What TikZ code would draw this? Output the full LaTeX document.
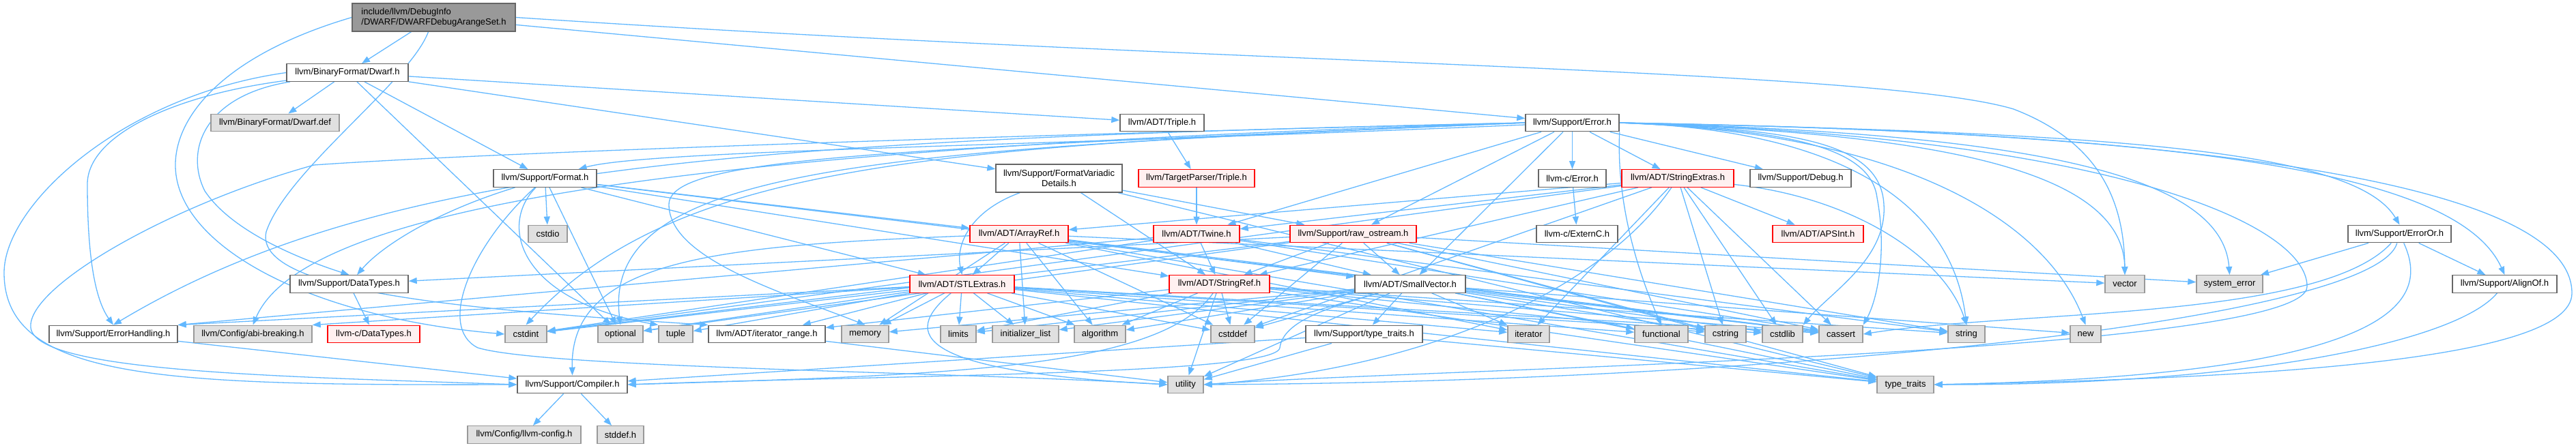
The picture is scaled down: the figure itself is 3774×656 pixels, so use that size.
\documentclass[tikz,border=0pt]{standalone}
\usepackage{fontspec}
\setmainfont{Liberation Sans}
\usetikzlibrary{arrows.meta,backgrounds}
\definecolor{EdgeBlue}{HTML}{63B8FF}
\definecolor{BoxLine}{HTML}{666666}
\definecolor{SysFill}{HTML}{E0E0E0}
\definecolor{SysLine}{HTML}{999999}
\definecolor{CutFill}{HTML}{FFF0F0}
\definecolor{CutLine}{HTML}{FF0000}
\definecolor{RootFill}{HTML}{999999}

\tikzset{
  box/.style={rectangle, minimum height=25.5pt, inner sep=0pt, line width=1.4pt,
    font=\fontsize{13}{15.5}\selectfont},
  hdr/.style={box, draw=BoxLine, fill=white, minimum width=#1pt},
  syshdr/.style={box, draw=SysLine, fill=SysFill, minimum width=#1pt},
  cuthdr/.style={box, draw=CutLine, fill=CutFill, minimum width=#1pt},
  roothdr/.style={box, draw=BoxLine, fill=RootFill, minimum width=#1pt,
    minimum height=41pt, align=left},
  dep/.style={draw=EdgeBlue, line width=1.3pt, -{Triangle[length=12pt,width=9pt]}},
}

\begin{document}
\begin{tikzpicture}[x=1pt,y=-1pt]
\useasboundingbox (0,0) rectangle (3774,656);

\node[roothdr=239] (root) at (635.5,25.5) {include/llvm/DebugInfo\\/DWARF/DWARFDebugArangeSet.h};
\node[hdr=178] (dwarf) at (509,106.5) {llvm/BinaryFormat/Dwarf.h};

\node[syshdr=188] (dwarfdef) at (403,180) {llvm/BinaryFormat/Dwarf.def};
\node[hdr=123] (triple) at (1702.5,180) {llvm/ADT/Triple.h};
\node[hdr=137] (error) at (2303.5,180) {llvm/Support/Error.h};

\node[hdr=151] (format) at (798.5,261.5) {llvm/Support/Format.h};
\node[hdr=185, minimum height=41pt, align=center] (fvd) at (1551.5,261.5) {llvm/Support/FormatVariadic\\Details.h};
\node[cuthdr=170] (tptriple) at (1753,261.5) {llvm/TargetParser/Triple.h};
\node[hdr=99] (cerror) at (2303.5,261.5) {llvm-c/Error.h};
\node[cuthdr=164] (strext) at (2458,261.5) {llvm/ADT/StringExtras.h};
\node[hdr=148] (debug) at (2638,261.5) {llvm/Support/Debug.h};

\node[syshdr=57] (cstdio) at (802.5,343) {cstdio};
\node[cuthdr=144] (arrayref) at (1493,343) {llvm/ADT/ArrayRef.h};
\node[cuthdr=126] (twine) at (1753,343) {llvm/ADT/Twine.h};
\node[cuthdr=185] (rawos) at (1982.5,343) {llvm/Support/raw\_ostream.h};
\node[hdr=119] (externc) at (2310.5,343) {llvm-c/ExternC.h};
\node[cuthdr=133] (apsint) at (2663.5,343) {llvm/ADT/APSInt.h};
\node[hdr=151] (erroror) at (3515.5,343) {llvm/Support/ErrorOr.h};

\node[hdr=173] (datatypes) at (511.5,416.5) {llvm/Support/DataTypes.h};
\node[cuthdr=153] (stlextras) at (1409.5,416.5) {llvm/ADT/STLExtras.h};
\node[cuthdr=147] (stringref) at (1786.5,416.5) {llvm/ADT/StringRef.h};
\node[hdr=162] (smallvec) at (2066,416.5) {llvm/ADT/SmallVector.h};
\node[syshdr=58] (vector) at (3113,416.5) {vector};
\node[syshdr=97] (syserr) at (3266.5,416.5) {system\_error};
\node[hdr=153] (alignof) at (3669.5,416.5) {llvm/Support/AlignOf.h};

\node[hdr=188] (errhandling) at (166,490) {llvm/Support/ErrorHandling.h};
\node[syshdr=173] (abibreak) at (370.5,490) {llvm/Config/abi-breaking.h};
\node[cuthdr=135] (cdatatypes) at (547.5,490) {llvm-c/DataTypes.h};
\node[syshdr=61] (cstdint) at (770.5,490) {cstdint};
\node[syshdr=66] (optional) at (909,490) {optional};
\node[syshdr=50] (tuple) at (990,490) {tuple};
\node[hdr=171] (itrange) at (1123.5,490) {llvm/ADT/iterator\_range.h};
\node[syshdr=69] (memory) at (1267.5,490) {memory};
\node[syshdr=52] (limits) at (1404,490) {limits};
\node[syshdr=97] (initlist) at (1502.5,490) {initializer\_list};
\node[syshdr=75] (algorithm) at (1611.5,490) {algorithm};
\node[syshdr=64] (cstddef) at (1806,490) {cstddef};
\node[hdr=171] (typetraitsh) at (1998.5,490) {llvm/Support/type\_traits.h};
\node[syshdr=61] (iterator) at (2239.5,490) {iterator};
\node[syshdr=78] (functional) at (2434,490) {functional};
\node[syshdr=60] (cstring) at (2528,490) {cstring};
\node[syshdr=59] (cstdlib) at (2611.5,490) {cstdlib};
\node[syshdr=64] (cassert) at (2697,490) {cassert};
\node[syshdr=54] (string) at (2881,490) {string};
\node[syshdr=45] (new) at (3055.5,490) {new};

\node[hdr=161] (compiler) at (838.5,564) {llvm/Support/Compiler.h};
\node[syshdr=52] (utility) at (1737,564) {utility};
\node[syshdr=83] (typetraits) at (2791.5,564) {type\_traits};

\node[syshdr=166] (llvmconfig) at (768,637.5) {llvm/Config/llvm-config.h};
\node[syshdr=68] (stddef) at (909,637.5) {stddef.h};

\begin{scope}[on background layer]
% root
\foreach \dst in {dwarf,error} \draw[dep] (root) -- (\dst);
\draw[dep] (root.west) .. controls (330,80) and (255,170) .. (257,245) .. controls (260,360) and (450,465) .. (cstdint.west);
\draw[dep] (root) .. controls (600,120) and (420,250) .. (390,340) .. controls (370,430) and (700,455) .. (itrange.north west);
\draw[dep] (root.east) .. controls (1800,95) and (2750,100) .. (2950,160) .. controls (3080,210) and (3112,300) .. (vector.north);
% Dwarf.h
\foreach \dst in {dwarfdef,format,fvd,triple,optional} \draw[dep] (dwarf) -- (\dst);
\draw[dep] (dwarf.west) .. controls (180,140) and (6,300) .. (6,400) .. controls (6,560) and (250,565) .. (compiler.west);
\draw[dep] (dwarf) .. controls (250,140) and (128,200) .. (128,270) .. controls (128,380) and (140,440) .. (errhandling.north);
\draw[dep] (dwarf) .. controls (300,140) and (270,220) .. (300,280) .. controls (340,340) and (440,380) .. (datatypes.north);
\draw[dep] (triple) -- (tptriple);
\draw[dep] (tptriple) -- (twine);
\draw[dep] (cerror) -- (externc);
% Error.h
\foreach \dst in {cerror,strext,debug,twine,rawos,smallvec} \draw[dep] (error) -- (\dst);
\draw[dep] (error) .. controls (1500,215) and (950,220) .. (format);
\draw[dep] (error.south east) .. controls (2368,300) and (2400,400) .. (functional.north);
\draw[dep] (error.west) .. controls (1100,205) and (560,240) .. (errhandling.north);
\draw[dep] (error.west) .. controls (1100,215) and (450,290) .. (abibreak.north);
\draw[dep] (error.west) .. controls (1400,215) and (1000,230) .. (cstdint.north);
\draw[dep] (error.west) .. controls (1300,220) and (880,240) .. (optional.north);
\draw[dep] (error.west) .. controls (1300,220) and (980,230) .. (980,300) .. controls (980,380) and (1150,430) .. (memory.north);
\draw[dep] (error.west) .. controls (1400,200) and (700,225) .. (460,242) .. controls (250,300) and (40,420) .. (45,480) .. controls (50,545) and (400,552) .. (compiler.west);
\draw[dep] (error.east) .. controls (2800,195) and (3110,240) .. (vector.north);
\draw[dep] (error.east) .. controls (2950,195) and (3255,250) .. (syserr.north);
\draw[dep] (error.east) .. controls (3100,195) and (3450,220) .. (erroror.north);
\draw[dep] (error.east) .. controls (3200,195) and (3600,250) .. (alignof.north);
\draw[dep] (error.east) .. controls (3300,195) and (3768,280) .. (3768,430) .. controls (3768,530) and (3300,555) .. (typetraits.east);
\draw[dep] (error.east) .. controls (3100,200) and (3380,330) .. (3380,420) .. controls (3380,520) and (2100,540) .. (utility.east);
\draw[dep] (error.east) .. controls (2600,190) and (2740,210) .. (2750,290) .. controls (2765,370) and (2750,440) .. (cassert.north east);
\draw[dep] (error.east) .. controls (2600,190) and (2755,200) .. (2760,300) .. controls (2765,380) and (2680,430) .. (cstdlib.north east);
\draw[dep] (error.east) .. controls (2700,190) and (2860,300) .. (string.north);
\draw[dep] (error.east) .. controls (2800,195) and (3000,330) .. (new.north);
% Format.h
\foreach \dst in {arrayref,stlextras,stringref,cassert,cstdio,optional} \draw[dep] (format) -- (\dst);
\draw[dep] (format) .. controls (640,310) and (560,360) .. (datatypes);
\draw[dep] (format) .. controls (730,330) and (760,440) .. (tuple.north west);
\draw[dep] (format) .. controls (690,360) and (640,480) .. (700,510) .. controls (800,540) and (1400,545) .. (utility.west);
% FormatVariadicDetails.h
\draw[dep] (fvd) .. controls (1420,310) and (1400,360) .. (stlextras.north);
\foreach \dst in {stringref,rawos,typetraits} \draw[dep] (fvd) -- (\dst);
% StringExtras.h
\foreach \dst in {apsint,arrayref,stringref,twine,cassert,cstddef,cstdint,cstdlib,cstring,iterator} \draw[dep] (strext) -- (\dst);
\draw[dep] (strext) .. controls (2720,290) and (2850,380) .. (string.north);
\draw[dep] (strext) .. controls (2350,420) and (2100,540) .. (utility.east);
% Twine.h
\foreach \dst in {smallvec,stringref,cassert,cstdint,string} \draw[dep] (twine) -- (\dst);
\draw[dep] (twine) -- (errhandling.north east);
% raw_ostream.h
\foreach \dst in {smallvec,stringref,datatypes,cassert,cstddef,cstdint,cstring,optional,string,syserr,typetraits} \draw[dep] (rawos) -- (\dst);
% ArrayRef.h
\foreach \dst in {smallvec,stlextras,algorithm,cassert,cstddef,initlist,iterator,memory,typetraits,vector} \draw[dep] (arrayref) -- (\dst);
\draw[dep] (arrayref) .. controls (1050,360) and (835,380) .. (compiler.north);
% STLExtras.h
\foreach \dst in {itrange,algorithm,cassert,cstddef,cstdint,cstdlib,functional,initlist,iterator,limits,memory,optional,tuple,typetraits} \draw[dep] (stlextras) -- (\dst);
\draw[dep] (stlextras) -- (abibreak.north east);
\draw[dep] (stlextras) -- (errhandling.north east);
\draw[dep] (stlextras) .. controls (1320,490) and (1340,545) .. (utility.west);
% StringRef.h
\foreach \dst in {itrange,algorithm,cassert,cstddef,cstring,limits,string,typetraits,utility} \draw[dep] (stringref) -- (\dst);
\draw[dep] (stringref) .. controls (1700,540) and (1400,550) .. (compiler.east);
% SmallVector.h
\foreach \dst in {typetraitsh,algorithm,cassert,cstddef,cstdlib,cstring,functional,initlist,iterator,limits,memory,new,typetraits,utility} \draw[dep] (smallvec) -- (\dst);
\draw[dep] (smallvec) .. controls (1950,450) and (1880,470) .. (1875,510) .. controls (1870,550) and (1300,550) .. (compiler.east);
% lower rows
\draw[dep] (datatypes) -- (cdatatypes);
\draw[dep] (errhandling) -- (compiler);
\draw[dep] (itrange) -- (utility);
\foreach \dst in {compiler,typetraits,utility} \draw[dep] (typetraitsh) -- (\dst);
\foreach \dst in {llvmconfig,stddef} \draw[dep] (compiler) -- (\dst);
% ErrorOr.h, AlignOf.h
\foreach \dst in {alignof,syserr} \draw[dep] (erroror) -- (\dst);
\draw[dep] (erroror) .. controls (3400,470) and (2950,455) .. (cassert.east);
\draw[dep] (erroror) .. controls (3480,470) and (2600,560) .. (utility.east);
\draw[dep] (erroror) .. controls (3560,440) and (3520,550) .. (typetraits.east);
\draw[dep] (alignof) .. controls (3600,500) and (3300,565) .. (typetraits.east);
\end{scope}
\end{tikzpicture}
\end{document}
